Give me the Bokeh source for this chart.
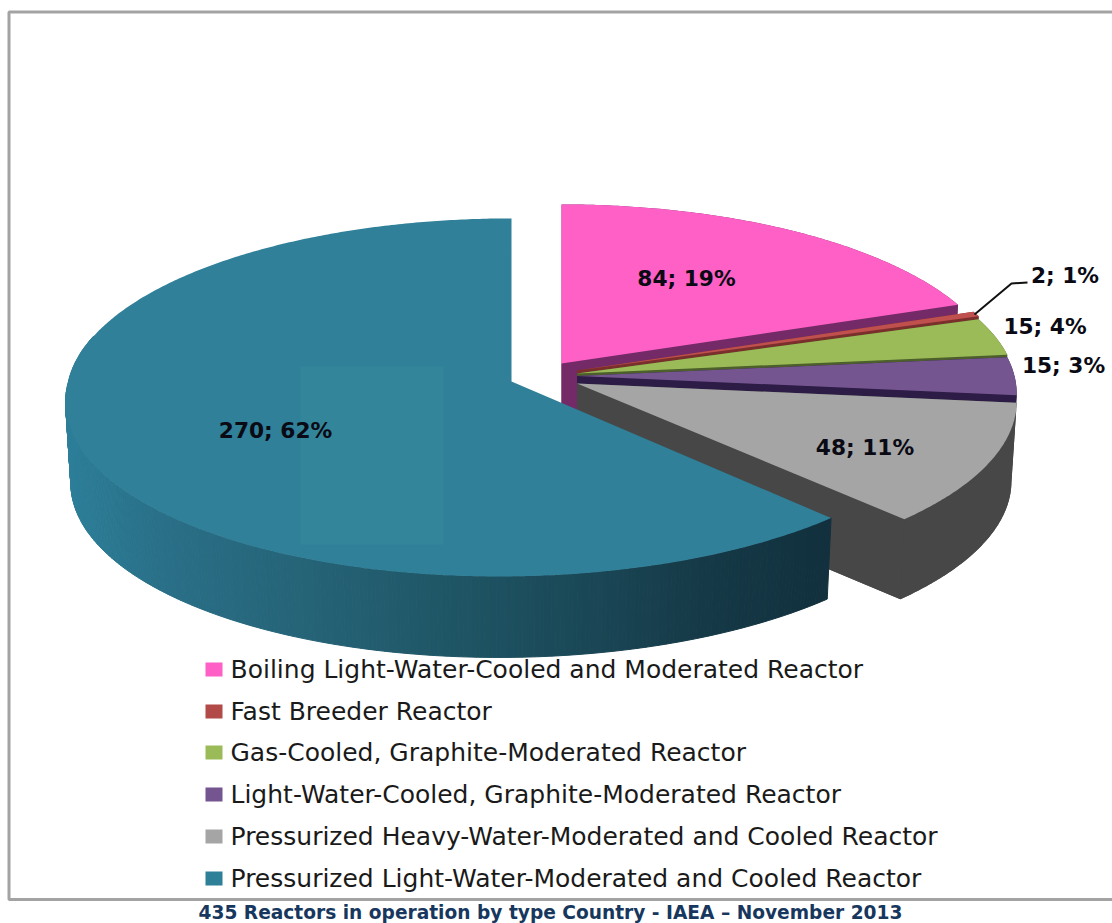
import numpy as np
from bokeh.plotting import figure
from bokeh.models import Range1d
from bokeh.core.properties import value
from bokeh.embed import file_html
from bokeh.resources import INLINE

# ---- data ----
categories = [
    "Boiling Light-Water-Cooled and Moderated Reactor",
    "Fast Breeder Reactor",
    "Gas-Cooled, Graphite-Moderated Reactor",
    "Light-Water-Cooled, Graphite-Moderated Reactor",
    "Pressurized Heavy-Water-Moderated and Cooled Reactor",
    "Pressurized Light-Water-Moderated and Cooled Reactor",
]
reactors = [84, 2, 15, 15, 48, 270]
percents = [19, 1, 4, 3, 11, 62]
title_text = "435 Reactors in operation by type Country - IAEA \u2013 November 2013"

# ---- styling ----
top_colors = ["#FE60C6", "#C0504D", "#9BBB59", "#75558F", "#A5A5A5", "#2F8098"]
wall_colors = ["#742A67", "#7A2F2D", "#4D5F2A", "#2C1C46", "#474747", None]
legend_colors = ["#FE60C6", "#B24A48", "#9BBB59", "#75558F", "#A5A5A5", "#2E7F98"]
apex_x = [561, 576.5, 576.5, 576.5, 576.5, 511]
apex_y = [363, 370, 373, 375.5, 383, 381]
label_x = [686, 1064.5, 1044.5, 1063, 864.5, 275]
label_y = [278, 275, 326, 365, 447, 430]
legend_y = [669, 711, 752, 794, 836, 878]
WALL = 80
SHRINK = 0.988

FRAME = "#A3A3A3"
FONT = "DejaVu Sans"

W, H = 1112, 923
p = figure(width=W, height=H, output_backend="svg", toolbar_location=None,
           x_range=Range1d(0, W), y_range=Range1d(H, 0),
           min_border=0, outline_line_color=None, background_fill_color="white")
p.axis.visible = False
p.grid.visible = False


def project(t_deg, ax, ay, A=437.5, B=175.0, persp=0.1, front_skew=0.0):
    t = np.radians(t_deg)
    u, v = np.sin(t), np.cos(t)
    d = 1 + persp * v
    sy = -B * v / d
    sx = A * u / d + front_skew * np.maximum(sy, 0)
    return ax + sx, ay + sy


def wall_shift(x, y, ax, depth):
    return ax + (x - ax) * SHRINK, y + depth


total = sum(reactors)
edges = np.concatenate([[0.0], np.cumsum(reactors) / total * 360.0])

# frame, open on the right as in the reference
p.line([1112, 8.5, 8.5, 1112], [11.5, 11.5, 899, 899], line_color=FRAME, line_width=3)

teal_ramp_x = [66, 160, 300, 450, 600, 700, 833]
teal_ramp_rgb = np.array([
    [0x2E, 0x7F, 0x99], [0x2A, 0x70, 0x88], [0x26, 0x64, 0x78], [0x1F, 0x56, 0x66],
    [0x1A, 0x46, 0x55], [0x16, 0x3A, 0x48], [0x12, 0x30, 0x3D],
])

for i in range(len(reactors)):
    t0, t1 = edges[i], edges[i + 1]
    ax, ay = apex_x[i], apex_y[i]
    kw = dict(ax=ax, ay=ay)
    depth = WALL
    if i == 5:
        kw.update(A=443.0, B=177.6, persp=0.089, front_skew=-0.066)
        depth = WALL + 1
    ts = np.linspace(t0, t1, max(int((t1 - t0) * 2), 4))
    rx, ry = project(ts, **kw)
    bx, by = wall_shift(rx, ry, ax, depth)
    if wall_colors[i] is not None:
        parts_x = [
            np.concatenate([[ax], bx]),
            np.concatenate([rx, bx[::-1]]),
            [ax, rx[0], bx[0], ax],
            [ax, rx[-1], bx[-1], ax],
        ]
        parts_y = [
            np.concatenate([[ay + depth], by]),
            np.concatenate([ry, by[::-1]]),
            [ay, ry[0], by[0], ay + depth],
            [ay, ry[-1], by[-1], ay + depth],
        ]
        p.patches([list(a) for a in parts_x], [list(a) for a in parts_y],
                  fill_color=wall_colors[i], line_color=None)
    else:
        xs, ys, cols = [], [], []
        for j in range(len(ts) - 1):
            if ts[j] > 285:
                continue
            xs.append([rx[j], rx[j + 1], bx[j + 1], bx[j]])
            ys.append([ry[j], ry[j + 1], by[j + 1], by[j]])
            mx = 0.5 * (rx[j] + rx[j + 1])
            rgb = [int(np.interp(mx, teal_ramp_x, teal_ramp_rgb[:, c])) for c in range(3)]
            cols.append("#%02X%02X%02X" % tuple(rgb))
        p.patches(xs, ys, fill_color=cols, line_color=cols, line_width=1)
    p.patch(np.concatenate([[ax], rx]), np.concatenate([[ay], ry]),
            fill_color=top_colors[i], line_color=None)

# lighter square artefact on the big slice
p.quad(left=[300], right=[443], top=[366], bottom=[544], fill_color="#33869A", line_color=None)

# leader line for the smallest slice
p.line([974, 1011, 1027], [314, 283, 282], line_color="#111111", line_width=2)

# data labels
labels = [f"{n}; {q}%" for n, q in zip(reactors, percents)]
p.text(label_x, label_y, text=labels, text_font=value(FONT), text_font_style="bold",
       text_font_size="21.7px", text_color="#0A0A14", text_align="center", text_baseline="middle")

# legend
p.quad(left=[205] * 6, right=[222] * 6, top=[y - 7 for y in legend_y], bottom=[y + 7 for y in legend_y],
       fill_color=legend_colors, line_color=None)
p.text([230] * 6, legend_y, text=categories, text_font=value(FONT), text_font_size="25px",
       text_color="#1A1A1A", text_align="left", text_baseline="middle")

# caption
p.text([550], [912], text=[title_text], text_font=value(FONT), text_font_style="bold",
       text_font_size="18.6px", text_color="#17375E", text_align="center", text_baseline="middle")

open("out.html", "w").write(file_html(p, INLINE))
